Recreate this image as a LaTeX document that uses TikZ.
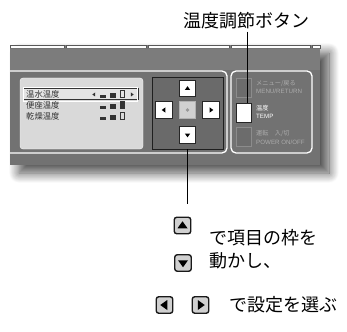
\documentclass[tikz,border=0pt]{standalone}
\usepackage{fontspec}
\setmainfont{Liberation Sans}
\newfontfamily\jp{Noto Sans CJK JP}
\usetikzlibrary{shadows.blur}
\definecolor{panelA}{HTML}{7C7C7C}
\definecolor{panelB}{HTML}{727272}
\definecolor{lcdgray}{HTML}{D9D9D9}
\definecolor{lcdink}{HTML}{333333}
\definecolor{padfill}{HTML}{6A6A6A}
\definecolor{btngray}{HTML}{6C6C6C}
\definecolor{lblgray}{HTML}{ABABAB}
\definecolor{icofill}{HTML}{D0D0D0}
\tikzset{
  pics/trup/.style={code={\fill (-#1,0.55*#1) -- (#1,0.55*#1) -- (0,-0.85*#1) -- cycle;}},
  pics/trdown/.style={code={\fill (-#1,-0.55*#1) -- (#1,-0.55*#1) -- (0,0.85*#1) -- cycle;}},
  pics/trleft/.style={code={\fill (0.55*#1,-#1) -- (0.55*#1,#1) -- (-0.85*#1,0) -- cycle;}},
  pics/trright/.style={code={\fill (-0.55*#1,-#1) -- (-0.55*#1,#1) -- (0.85*#1,0) -- cycle;}},
  keybtn/.style={draw=black!85, fill=white, line width=0.6pt, minimum size=16.5pt, inner sep=0pt},
  sidebtn/.style={draw=black!45, fill=btngray, line width=0.6pt, minimum width=14.5pt, minimum height=19pt, inner sep=0pt},
  lbl/.style={anchor=west, inner sep=0pt, text=lblgray, font=\fontsize{6.2}{7}\selectfont},
  lcdtext/.style={anchor=west, inner sep=0pt, text=lcdink, font=\jp\fontsize{8.3}{9}\selectfont},
  bigtext/.style={anchor=west, inner sep=0pt, font=\jp\fontsize{18}{20}\selectfont},
  keyicon/.style={draw=black!90, fill=icofill, line width=1.4pt, rounded corners=2.5pt, minimum size=16.5pt, inner sep=0pt},
  frameline/.style={draw=white, line width=1.3pt, rounded corners=5pt},
}
\begin{document}
\begin{tikzpicture}[x=1pt,y=-1pt]
\useasboundingbox (0,0) rectangle (347,331);
% panel with shadow
\fill[panelB, blur shadow={shadow xshift=9pt, shadow yshift=-8pt, shadow blur radius=10pt, shadow blur steps=14, shadow opacity=70}] (10,45) rectangle (320,165);
\fill[panelA] (10,45) rectangle (320,70);
% top strip
\foreach \a/\b in {10/64, 66.5/146, 148.5/229, 231.5/310.5, 312.5/320}{
  \draw[fill=white, draw=black!65, line width=0.5pt] (\a,45) rectangle (\b,47.8);
}
\draw[black!55, line width=0.6pt] (10,48.6) -- (320,48.6);
% frames
\begin{scope}
\clip (10,45) rectangle (320,165);
\draw[frameline] (0,71) rectangle (227,153);
\end{scope}
\draw[frameline] (231,71) rectangle (312,153);
% LCD
\node[fill=lcdgray, draw=white!85!lcdgray, rounded corners=3pt, minimum width=123pt, minimum height=71pt, inner sep=0pt] (lcd) at (81.5,113.5) {};
\node[draw=black!80, fill=white!30!lcdgray, line width=0.7pt, minimum width=115pt, minimum height=11pt, inner sep=0pt] (sel) at (80.5,94) {};
\draw[white, line width=0.4pt] ([shift={(1,-1)}]sel.north west) rectangle ([shift={(-1,1)}]sel.south east);
\node[lcdtext] (r1) at (26,94) {温水温度};
\node[lcdtext] (r2) at (26,105) {便座温度};
\node[lcdtext] (r3) at (26,116) {乾燥温度};
\begin{scope}[lcdink]
% row 1
\pic at (94,94.5) {trleft=2};
\fill (100,95.5) rectangle (106,98);
\fill (110,93) rectangle (115.5,98);
\draw[line width=0.7pt] (120.3,90.3) rectangle (124.3,97.7);
\pic at (132,94.5) {trright=2};
% row 2
\fill (100,106.5) rectangle (106,109);
\fill (110,104) rectangle (115.5,109);
\fill (120,101) rectangle (124.6,109);
% row 3
\fill (100,117.5) rectangle (106,120);
\fill (110,115) rectangle (115.5,120);
\draw[line width=0.7pt] (120.3,112.3) rectangle (124.3,119.7);
\end{scope}
% D-pad
\node[draw=black!88, fill=padfill, line width=0.9pt, minimum width=71pt, minimum height=72pt, inner sep=0pt] (dpad) at (187.5,113) {};
\node[keybtn] (kup) at (187.5,88.5) {};
\node[keybtn] (kleft) at (164,110) {};
\node[keybtn, fill=black!18, draw=black!30] (kctr) at (187.5,110) {};
\node[keybtn] (kright) at (211,110) {};
\node[keybtn] (kdown) at (187.5,135) {};
\pic at (kup.center) {trup=2.7};
\pic at (kleft.center) {trleft=2.7};
\pic at (kright.center) {trright=2.7};
\pic at (kdown.center) {trdown=2.7};
\fill[black!40] (kctr.center) circle (1.9pt);
% side buttons
\node[sidebtn] (bmenu) at (244,87.5) {};
\node[sidebtn, fill=white, draw=black!85] (btemp) at (244,112.5) {};
\node[sidebtn] (bpower) at (244,137) {};
\node[lbl] (lmenu1) at (256,83.5) {\jp メニュー/戻る};
\node[lbl] (lmenu2) at (256,91.5) {MENU/RETURN};
\node[lbl, text=white] (ltemp1) at (256,108) {\jp 温度};
\node[lbl, text=white] (ltemp2) at (256,116.5) {TEMP};
\node[lbl] (lpow1) at (256,133.5) {\jp 運転　入/切};
\node[lbl] (lpow2) at (256,142) {POWER ON/OFF};
% title and callout
\node[font=\jp\fontsize{18}{20}\selectfont, inner sep=2pt] (title) at (246,21) {温度調節ボタン};
\draw[line width=0.8pt] ([xshift=3pt]btemp.north |- title.south) -- ([xshift=3pt]btemp.north);
\coordinate (dend) at (187.5,204);
\draw[line width=0.8pt] (dpad.south) -- (dend);
% explanation
\node[keyicon] (iup) at (182.5,225.5) {};
\node[keyicon] (idown) at (183,263) {};
\node[keyicon] (ileft) at (164.5,305) {};
\node[keyicon] (iright) at (200.5,305) {};
\pic at (iup.center) {trup=5};
\pic at (idown.center) {trdown=5};
\pic at (ileft.center) {trleft=5};
\pic at (iright.center) {trright=5};
\node[bigtext] (t1) at (209,238) {で項目の枠を};
\node[bigtext] (t2) at (209,261) {動かし、};
\node[bigtext] (t3) at (229,305) {で設定を選ぶ};
\end{tikzpicture}
\end{document}
